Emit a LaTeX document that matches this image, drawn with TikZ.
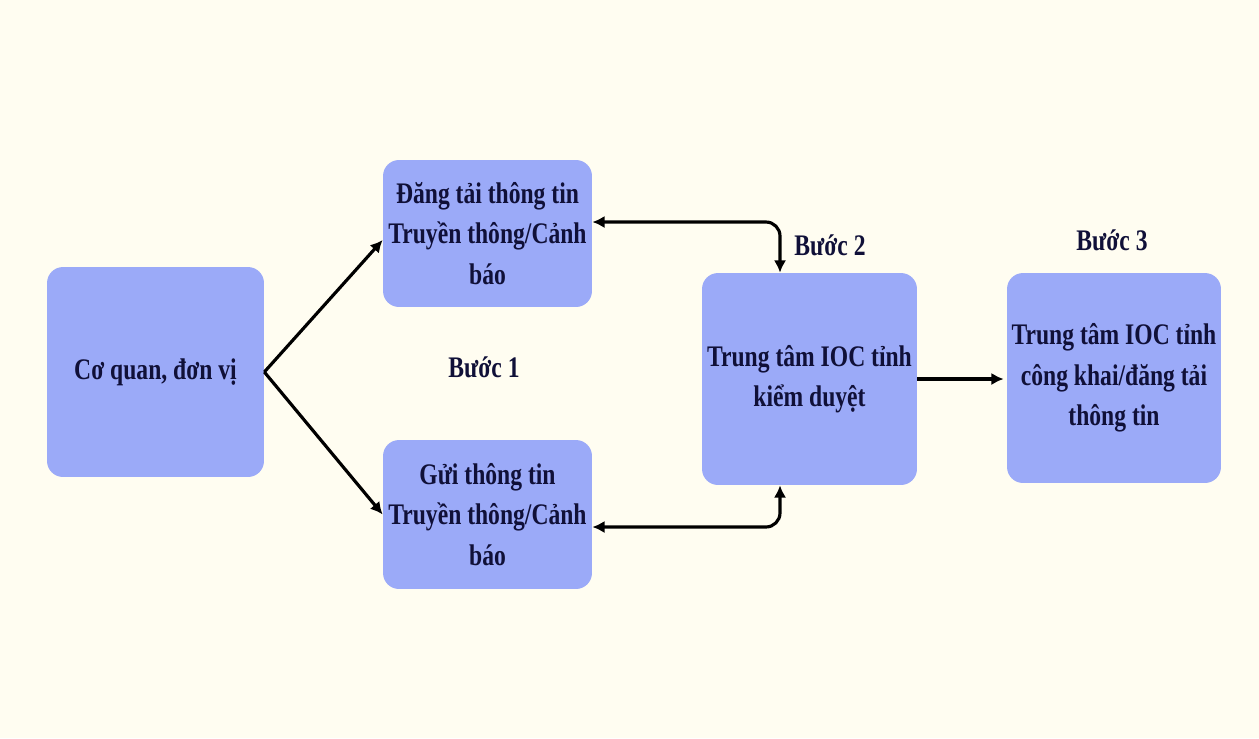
\documentclass[tikz,border=0pt]{standalone}
\usepackage{fontspec}
\setmainfont{Liberation Serif}[FakeStretch=0.79]
\usetikzlibrary{arrows.meta,positioning}
\definecolor{bg}{RGB}{255,253,241}
\definecolor{boxfill}{RGB}{155,170,248}
\definecolor{txt}{RGB}{16,16,56}
\tikzset{
  box/.style={fill=boxfill, rounded corners=0.32cm, align=center, inner sep=0pt,
    text=txt, font=\fontsize{17}{23}\selectfont\bfseries},
  lbl/.style={text=txt, font=\fontsize{17}{23}\selectfont\bfseries},
  conn/.style={line width=1.8pt, -{Latex[length=7pt,width=7pt]}},
  conn2/.style={line width=1.8pt, {Latex[length=7pt,width=7pt]}-{Latex[length=7pt,width=7pt]}, rounded corners=8pt}
}
\begin{document}
\begin{tikzpicture}[x=0.02cm,y=-0.02cm]
\path[fill=bg] (0,0) rectangle (1259,738);
\node[box, minimum width=4.34cm, minimum height=4.2cm] (A) at (155.5,372) {Cơ quan, đơn vị};
\node[box, minimum width=4.18cm, minimum height=2.94cm] (B) at (487.5,233.5) {Đăng tải thông tin\\Truyền thông/Cảnh\\báo};
\node[box, minimum width=4.18cm, minimum height=2.98cm] (C) at (487.5,514.5) {Gửi thông tin\\Truyền thông/Cảnh\\báo};
\node[box, minimum width=4.3cm, minimum height=4.24cm] (D) at (809.5,379) {Trung tâm IOC tỉnh\\kiểm duyệt};
\node[box, minimum width=4.28cm, minimum height=4.2cm] (E) at (1114,378) {Trung tâm IOC tỉnh\\công khai/đăng tải\\thông tin};
\node[lbl] (L1) at (484,367) {Bước 1};
\node[lbl] (L2) at (830,245) {Bước 2};
\node[lbl] (L3) at (1112,240) {Bước 3};
\coordinate (split) at (A.east);
\draw[conn] (split) -- ([yshift=-0.13cm]B.west);
\draw[conn] (split) -- (C.west);
\draw[conn2] ([yshift=0.23cm]B.east) -| ([xshift=-0.59cm]D.north);
\draw[conn2] ([yshift=-0.25cm]C.east) -| ([xshift=-0.59cm]D.south);
\draw[conn] (D.east) -- ([xshift=-0.06cm]D.east -| E.west);
\end{tikzpicture}
\end{document}
